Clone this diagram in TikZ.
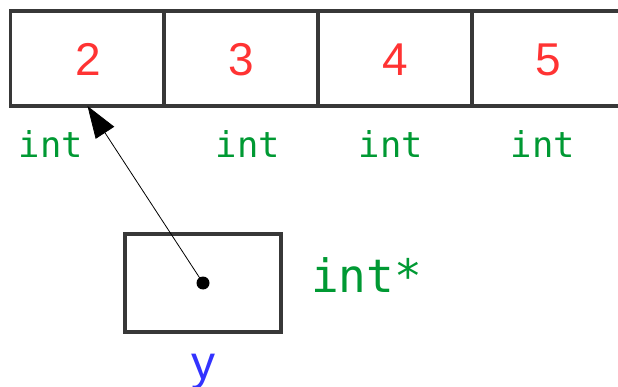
\documentclass[tikz,border=0pt]{standalone}
\usepackage{fontspec}
\setmainfont{Liberation Sans}
\newfontfamily\monofont{DejaVu Sans Mono}
\usetikzlibrary{arrows.meta}
\definecolor{valred}{RGB}{255,51,51}
\definecolor{typegreen}{RGB}{0,153,51}
\definecolor{namebl}{RGB}{51,51,255}
\definecolor{boxgray}{RGB}{56,56,56}
\tikzset{
  cell/.style={draw=boxgray, line width=3.4pt, rectangle, minimum width=154pt, minimum height=95pt, outer sep=0pt, inner sep=0pt},
  val/.style={text=valred, anchor=base, inner sep=0pt, font=\fontsize{46}{46}\selectfont},
  typ/.style={text=typegreen, anchor=base, inner sep=0pt, font=\monofont\fontsize{35.5}{35.5}\selectfont},
  typbig/.style={text=typegreen, anchor=base west, inner sep=0pt, font=\monofont\fontsize{46}{46}\selectfont},
  vname/.style={text=namebl, anchor=base, inner sep=0pt, font=\fontsize{48}{48}\selectfont},
}
\begin{document}
\begin{tikzpicture}[x=1pt,y=-1pt]
\clip (0,0) rectangle (618,387);
\fill[white] (0,0) rectangle (618,387);
% array cells
\node[cell] (c1) at (87.5,58.5) {};
\node[cell] (c2) at (241,58.5) {};
\node[cell] (c3) at (395,58.5) {};
\node[cell] (c4) at (549,58.5) {};
% values
\node[val] (v1) at (88,76) {2};
\node[val] (v2) at (241,76) {3};
\node[val] (v3) at (395,76) {4};
\node[val] (v4) at (548,76) {5};
% types
\node[typ] (t1) at (51,158) {int};
\node[typ] (t2) at (248,158) {int};
\node[typ] (t3) at (391,158) {int};
\node[typ] (t4) at (543,158) {int};
% pointer box
\node[cell, minimum width=156pt, minimum height=98pt] (p) at (203,283) {};
\node[typbig] (pt) at (311,292) {int*};
\node[vname] (y) at (203,379) {y};
\node[circle, fill=black, minimum size=13pt, inner sep=0pt] (dot) at (203,283) {};
\draw[line width=0.8pt, -{Triangle[length=32pt,width=22pt]}] (dot.center) -- (c1.south);
\end{tikzpicture}
\end{document}
